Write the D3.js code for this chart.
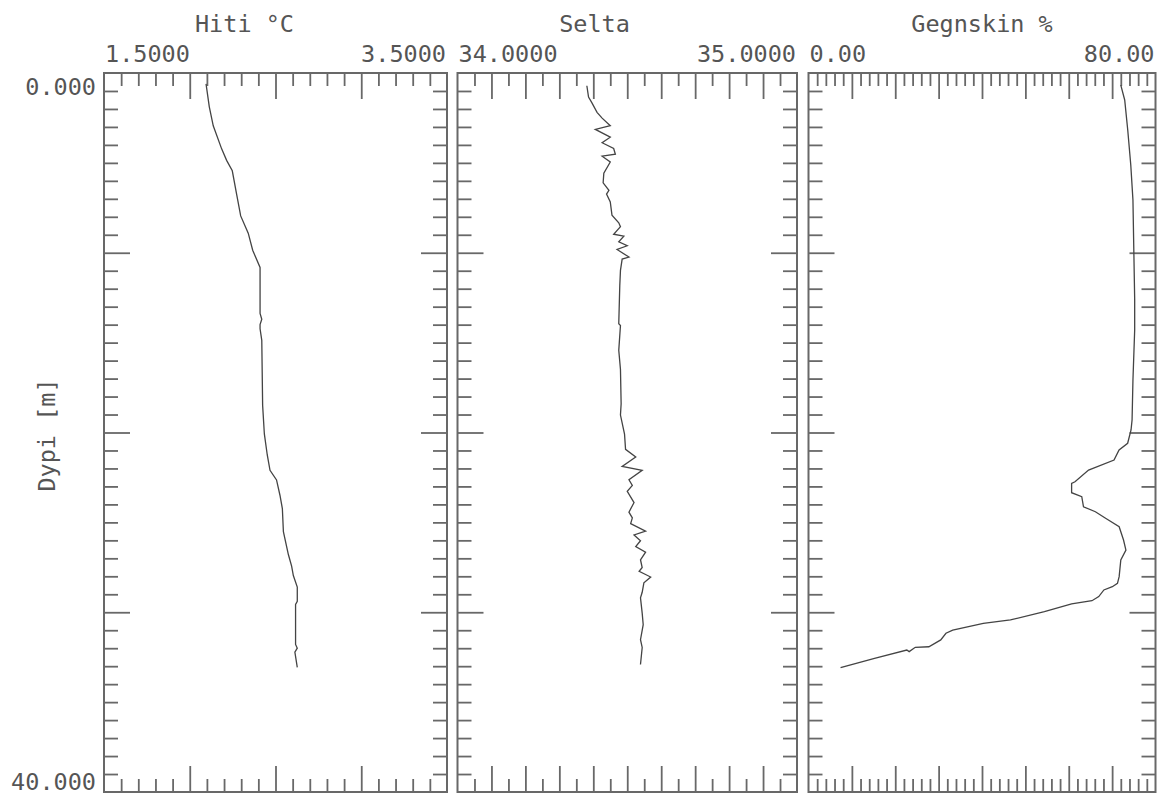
<!DOCTYPE html>
<html><head><meta charset="utf-8">
<script src="https://cdn.jsdelivr.net/npm/d3@7"></script>
<style>
body{margin:0;background:#fff}
svg text{font-family:"DejaVu Sans Mono",monospace;fill:#555;font-size:23.5px}
</style>
</head><body><svg id="c" width="1164" height="796"></svg>
<script>
// ---- data ----
const titles = ["Hiti °C", "Selta", "Gegnskin %"];
const rangeLabels = [["1.5000", "3.5000"], ["34.0000", "35.0000"], ["0.00", "80.00"]];
const domains = [[1.5, 3.5], [34, 35], [0, 80]];
const depthLabels = ["0.000", "40.000"];
const depthDomain = [0, 40];
const yTitle = "Dypi [m]";

const tempDepth = [0.6, 1.88, 2.94, 4.22, 4.86, 5.44, 6.78, 7.95, 8.91, 9.86, 10.82, 13.38, 13.7, 14.0, 14.23, 14.87, 18.49, 20.08, 21.25, 22.1, 22.64, 23.49, 24.23, 25.51, 26.79, 27.43, 27.96, 28.6, 29.39, 29.56, 31.79, 32.0, 32.22, 33.07];
const tempValues = [2.095, 2.114, 2.137, 2.186, 2.215, 2.248, 2.274, 2.297, 2.341, 2.367, 2.41, 2.41, 2.42, 2.41, 2.41, 2.42, 2.425, 2.435, 2.452, 2.468, 2.506, 2.526, 2.54, 2.546, 2.575, 2.594, 2.604, 2.627, 2.627, 2.617, 2.617, 2.627, 2.613, 2.627];

const saltDepth = [0.71, 1.34, 1.66, 2.19, 2.51, 2.93, 3.14, 3.57, 3.88, 4.2, 4.52, 4.63, 4.95, 5.58, 6.11, 6.53, 6.74, 7.17, 7.91, 8.33, 8.55, 8.97, 9.08, 9.39, 9.61, 9.82, 10.24, 10.35, 10.98, 11.83, 13.95, 14.05, 15.43, 16.49, 18.4, 19.03, 20.09, 20.94, 21.36, 21.89, 22.1, 22.63, 22.95, 23.27, 23.9, 24.43, 24.75, 25.07, 25.49, 25.7, 26.02, 26.34, 26.66, 27.08, 27.51, 27.72, 28.04, 28.36, 28.89, 29.2, 30.05, 30.69, 31.53, 31.96, 32.91];
const saltValues = [34.381, 34.386, 34.396, 34.411, 34.426, 34.45, 34.406, 34.45, 34.426, 34.46, 34.465, 34.426, 34.45, 34.431, 34.429, 34.446, 34.439, 34.45, 34.455, 34.475, 34.48, 34.46, 34.49, 34.475, 34.5, 34.47, 34.505, 34.485, 34.48, 34.478, 34.475, 34.48, 34.475, 34.48, 34.482, 34.48, 34.492, 34.495, 34.525, 34.485, 34.544, 34.505, 34.515, 34.5, 34.52, 34.505, 34.515, 34.51, 34.554, 34.52, 34.539, 34.525, 34.554, 34.539, 34.544, 34.535, 34.569, 34.549, 34.544, 34.539, 34.544, 34.547, 34.539, 34.544, 34.539];

const transDepth = [0.67, 1.5, 3.17, 5.12, 7.07, 9.85, 12.6, 14.3, 17.08, 19.3, 19.86, 20.6, 20.97, 21.53, 22.09, 22.74, 22.83, 23.35, 23.57, 24.13, 24.41, 24.77, 25.24, 25.98, 26.54, 27.09, 28.02, 28.39, 28.58, 28.76, 29.13, 29.36, 29.54, 29.97, 30.43, 30.62, 30.99, 31.17, 31.54, 31.92, 31.95, 32.19, 32.1, 32.56, 33.08];
const transValues = [72.0, 72.9, 73.6, 74.3, 74.8, 75.0, 75.2, 75.2, 74.8, 74.6, 74.36, 73.58, 71.6, 70.44, 64.57, 61.44, 60.66, 60.66, 63.0, 63.4, 66.14, 68.49, 71.62, 72.63, 73.18, 72.0, 71.62, 71.23, 70.05, 68.1, 66.92, 65.35, 60.66, 54.39, 46.56, 40.3, 33.25, 31.69, 30.49, 27.75, 24.62, 23.21, 22.66, 15.22, 7.39];

// ---- layout ----
const svg = d3.select("#c");
const yTop = 73, yBot = 792;
const panelX = [[104, 447], [457.5, 797], [808.5, 1155.5]];
const titleX = [244.5, 594.5, 982];
const tickSpec = [
  {minor: d3.range(1, 20).filter(k => k % 5).map(k => 1.5 + k * 0.1), major: [2, 2.5, 3]},
  {minor: d3.range(1, 20).filter(k => k % 2).map(k => 34 + k * 0.05), major: d3.range(2, 20, 2).map(k => 34 + k * 0.05)},
  {minor: d3.range(2, 80, 2).filter(v => v % 10), major: d3.range(10, 80, 10)}
];
const series = [[tempDepth, tempValues], [saltDepth, saltValues], [transDepth, transValues]];

const y = d3.scaleLinear().domain(depthDomain).range([yTop, yBot]);
const yMinor = d3.range(1, 40).filter(v => v % 10);
const yMajor = [10, 20, 30];
const tickColor = "#686868";

function styleAxis(g) {
  g.select(".domain").remove();
  g.attr("color", tickColor).selectAll("line").attr("stroke-width", 1.8);
}

panelX.forEach((px, i) => {
  const x = d3.scaleLinear().domain(domains[i]).range(px);
  const g = svg.append("g");
  [[tickSpec[i].minor, 13], [tickSpec[i].major, 26]].forEach(([vals, len]) => {
    g.append("g").attr("transform", `translate(0,${yTop})`)
      .call(d3.axisTop(x).tickValues(vals).tickSize(-len).tickFormat("")).call(styleAxis);
    g.append("g").attr("transform", `translate(0,${yBot})`)
      .call(d3.axisBottom(x).tickValues(vals).tickSize(-len).tickFormat("")).call(styleAxis);
  });
  [[yMinor, 14], [yMajor, 26]].forEach(([vals, len]) => {
    g.append("g").attr("transform", `translate(${px[0]},0)`)
      .call(d3.axisLeft(y).tickValues(vals).tickSize(-len).tickFormat("")).call(styleAxis);
    g.append("g").attr("transform", `translate(${px[1]},0)`)
      .call(d3.axisRight(y).tickValues(vals).tickSize(-len).tickFormat("")).call(styleAxis);
  });
  g.append("rect").attr("x", px[0]).attr("y", yTop).attr("width", px[1] - px[0]).attr("height", yBot - yTop)
    .attr("fill", "none").attr("stroke", tickColor).attr("stroke-width", 2);
  const [dep, val] = series[i];
  const pts = dep.map((d, j) => [val[j], d]);
  g.append("path").datum(pts)
    .attr("d", d3.line().x(d => x(d[0])).y(d => y(d[1])))
    .attr("fill", "none").attr("stroke", "#444").attr("stroke-width", 1.3);
  g.append("text").attr("x", titleX[i]).attr("y", 32).attr("text-anchor", "middle").text(titles[i]);
  g.append("text").attr("x", px[0] + 1).attr("y", 62).attr("text-anchor", "start").text(rangeLabels[i][0]);
  g.append("text").attr("x", px[1] - 1).attr("y", 62).attr("text-anchor", "end").text(rangeLabels[i][1]);
});

svg.append("text").attr("x", 96).attr("y", 95).attr("text-anchor", "end").text(depthLabels[0]);
svg.append("text").attr("x", 96).attr("y", 790).attr("text-anchor", "end").text(depthLabels[1]);
svg.append("text").attr("transform", "translate(55,435) rotate(-90)").attr("text-anchor", "middle").text(yTitle);
</script>
</body></html>
